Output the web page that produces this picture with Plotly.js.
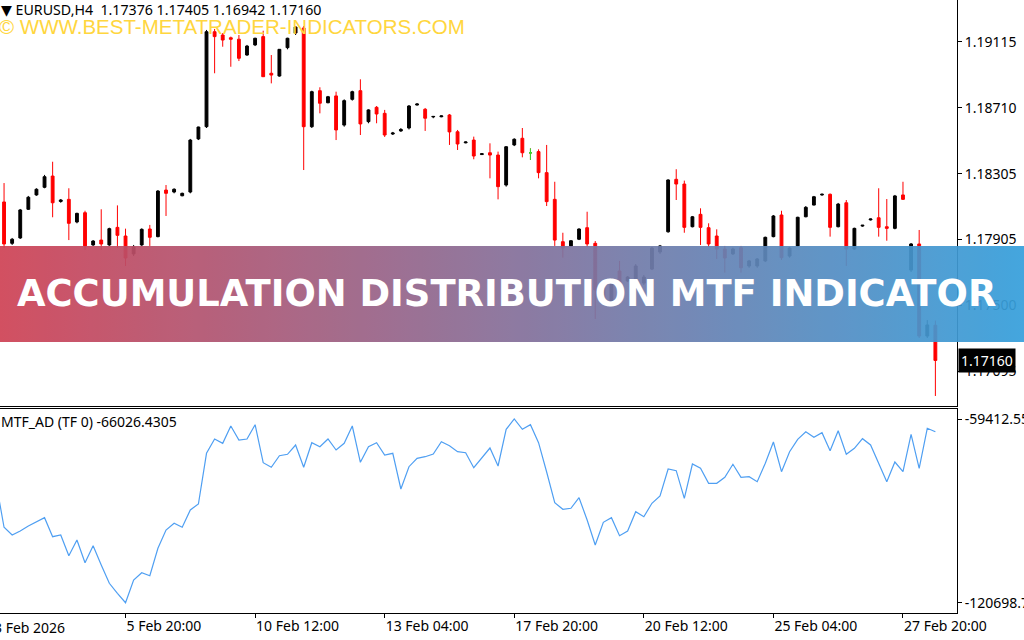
<!DOCTYPE html>
<html>
<head>
<meta charset="utf-8">
<script src="https://cdn.plot.ly/plotly-3.0.1.min.js"></script>
<style>html,body{margin:0;padding:0;background:#fff;}#chart{width:1024px;height:640px;}</style>
</head>
<body>
<div id="chart"></div>
<script>
// ---- Price data (EURUSD H4), bars 1..116 ----
const openP = [
1.18133,1.17879,1.17912,1.18088,1.18176,1.18223,1.18292,1.18136,1.18149,1.18010,
1.18067,1.17869,1.17899,1.17869,1.17977,1.17924,1.17814,1.17869,1.17967,1.17920,
1.18206,1.18194,1.18171,1.18194,1.18520,1.18595,1.19178,1.19158,1.19141,1.19132,
1.19035,1.19097,1.19148,1.18923,1.18906,1.19080,1.19170,1.19201,1.18595,1.18816,
1.18742,1.18784,1.18605,1.18763,1.18816,1.18626,1.18714,1.18677,1.18550,1.18569,
1.18587,1.18728,1.18702,1.18655,1.18656,1.18667,1.18564,1.18496,1.18513,1.18424,
1.18435,1.18421,1.18237,1.18483,1.18524,1.18435,1.18442,1.18313,1.18149,1.17889,
1.17863,1.17904,1.17975,1.17879,1.17531,1.17519,1.17709,1.17648,1.17660,1.17635,
1.17721,1.17826,1.17950,1.18272,1.18243,1.17981,1.18057,1.17975,1.17924,1.17844,
1.17814,1.17852,1.17740,1.17740,1.17771,1.17920,1.18053,1.17801,1.17863,1.18042,
1.18114,1.18176,1.18180,1.17981,1.18128,1.17844,1.17985,1.18023,1.18036,1.17981,
1.17971,1.18176,1.17715,1.17875,1.17310,1.17376];
const highP = [
1.18249,1.17912,1.18090,1.18170,1.18217,1.18299,1.18380,1.18151,1.18217,1.18067,
1.18079,1.17899,1.18088,1.17975,1.18112,1.17969,1.17869,1.17971,1.17992,1.18206,
1.18237,1.18217,1.18190,1.18520,1.18595,1.19189,1.19195,1.19170,1.19148,1.19158,
1.19097,1.19141,1.19184,1.19035,1.19072,1.19141,1.19213,1.19213,1.18816,1.18837,
1.18784,1.18810,1.18763,1.18816,1.18886,1.18702,1.18722,1.18698,1.18563,1.18587,
1.18728,1.18739,1.18710,1.18661,1.18664,1.18673,1.18575,1.18504,1.18534,1.18432,
1.18493,1.18442,1.18476,1.18524,1.18587,1.18462,1.18456,1.18483,1.18257,1.17944,
1.17899,1.17971,1.18073,1.17893,1.17623,1.17666,1.17771,1.17678,1.17752,1.17685,
1.17857,1.17869,1.18272,1.18334,1.18264,1.18047,1.18094,1.18002,1.17965,1.17863,
1.17852,1.17863,1.17777,1.17789,1.17920,1.18053,1.18079,1.17857,1.18042,1.18108,
1.18170,1.18185,1.18185,1.18127,1.18145,1.17975,1.17992,1.18031,1.18217,1.18151,
1.18176,1.18257,1.17881,1.17961,1.17408,1.17405];
const lowP = [
1.17850,1.17869,1.17906,1.18084,1.18171,1.18217,1.18039,1.18128,1.17899,1.18002,
1.17838,1.17863,1.17838,1.17863,1.17850,1.17740,1.17801,1.17863,1.17863,1.17916,
1.18047,1.18186,1.18168,1.18186,1.18513,1.18587,1.18923,1.19086,1.18963,1.18998,
1.19030,1.19090,1.18900,1.18861,1.18902,1.19070,1.19158,1.18329,1.18587,1.18677,
1.18739,1.18513,1.18595,1.18755,1.18544,1.18616,1.18616,1.18532,1.18544,1.18563,
1.18578,1.18725,1.18569,1.18647,1.18653,1.18483,1.18452,1.18493,1.18395,1.18421,
1.18278,1.18149,1.18227,1.18476,1.18407,1.18391,1.18278,1.18108,1.17863,1.17791,
1.17857,1.17899,1.17857,1.17415,1.17507,1.17500,1.17513,1.17641,1.17654,1.17623,
1.17715,1.17814,1.17944,1.18145,1.17944,1.17977,1.17869,1.17857,1.17783,1.17699,
1.17807,1.17699,1.17729,1.17729,1.17764,1.17916,1.17777,1.17791,1.17857,1.18039,
1.18112,1.18171,1.17920,1.17977,1.17740,1.17838,1.17981,1.18019,1.17920,1.17895,
1.17965,1.18145,1.17703,1.17298,1.17298,1.16942];
const closeP = [
1.17875,1.17904,1.18084,1.18162,1.18211,1.18288,1.18128,1.18145,1.18002,1.18063,
1.17863,1.17893,1.17875,1.17969,1.17928,1.17789,1.17857,1.17965,1.17916,1.18200,
1.18186,1.18211,1.18186,1.18513,1.18593,1.19178,1.19148,1.19127,1.19132,1.19015,
1.19090,1.19138,1.18902,1.18912,1.19070,1.19138,1.19207,1.18595,1.18810,1.18739,
1.18779,1.18575,1.18755,1.18810,1.18612,1.18698,1.18673,1.18544,1.18556,1.18578,
1.18722,1.18734,1.18647,1.18658,1.18661,1.18563,1.18489,1.18501,1.18415,1.18429,
1.18421,1.18227,1.18472,1.18518,1.18435,1.18435,1.18313,1.18135,1.17899,1.17850,
1.17895,1.17967,1.17875,1.17593,1.17605,1.17654,1.17635,1.17672,1.17740,1.17672,
1.17850,1.17863,1.18268,1.18243,1.17977,1.18042,1.17977,1.17875,1.17844,1.17789,
1.17844,1.17729,1.17771,1.17783,1.17916,1.18047,1.17791,1.17850,1.18039,1.18100,
1.18165,1.18180,1.17977,1.18120,1.17844,1.17971,1.17990,1.18028,1.17977,1.17971,
1.18170,1.18149,1.17875,1.17310,1.17378,1.17160];

// doji bar drawn in green
const dojiBar = [66];
const dojiOpen = [1.18435], dojiHigh = [1.18462], dojiLow = [1.18391], dojiClose = [1.18435];

// ---- MTF_AD indicator values, bars 0..116 ----
const adValues = [
-80430,-95542,-98110,-96776,-95108,-93673,-92339,-98677,-98110,-105015,
-99778,-107351,-101680,-108118,-114223,-117559,-120698.7,-113122,-110687,-111688,
-102547,-96442,-94207,-95542,-89770,-87769,-70855,-66085,-67519,-61748,
-66418,-66085,-61314,-73991,-75525,-71655,-71188,-68086,-75525,-67319,
-68653,-66085,-69754,-67519,-61748,-73857,-68653,-67319,-71422,-70855,
-82765,-75325,-72523,-71989,-71089,-66985,-68320,-70321,-70655,-75659,
-72189,-69087,-75092,-62849,-59412.55,-62849,-61314,-67319,-77093,-87335,
-89537,-89203,-85667,-93106,-101446,-93874,-92339,-98344,-96776,-90337,
-92005,-87535,-85100,-76093,-76660,-85867,-74425,-75859,-80863,-80863,
-78861,-74525,-78861,-78661,-80329,-74191,-67086,-76993,-70321,-66185,
-63649,-65518,-63983,-69988,-63316,-71188,-69187,-65984,-68086,-74191,
-80329,-73757,-76993,-64517,-75859,-62515,-63649];

// ---- Axis labels ----
const priceTicks = [1.19115, 1.18710, 1.18305, 1.17905, 1.17500, 1.17095];
const adTicks = [-59412.55, -120698.7];
const adTickText = ['-59412.55', '-120698.7'];
const timeTickBars = [16, 32, 48, 64, 80, 96, 112];
const timeTickText = ['5 Feb 20:00','10 Feb 12:00','13 Feb 04:00','17 Feb 20:00','20 Feb 12:00','25 Feb 04:00','27 Feb 20:00'];
const firstTimeLabel = '3 Feb 2026';
const lastPrice = 1.17160;
const headerText = '\u25BC EURUSD,H4\u00a0\u00a01.17376 1.17405 1.16942 1.17160';
const indicatorText = 'MTF_AD (TF 0) -66026.4305';
const watermarkText = '\u00A9 WWW.BEST-METATRADER-INDICATORS.COM';
const bannerText = 'ACCUMULATION DISTRIBUTION MTF INDICATOR';

const candleBars = openP.map((_, k) => k + 1);
const adBars = adValues.map((_, k) => k);

const axFont = {family: 'Noto Sans, Liberation Sans, sans-serif', size: 14, color: '#000'};

const traces = [
  {
    type: 'candlestick', x: candleBars, open: openP, high: highP, low: lowP, close: closeP,
    xaxis: 'x', yaxis: 'y', hoverinfo: 'skip', whiskerwidth: 0,
    increasing: {line: {color: '#000000', width: 1}, fillcolor: '#000000'},
    decreasing: {line: {color: '#ff0000', width: 1}, fillcolor: '#ff0000'}
  },
  {
    type: 'candlestick', x: dojiBar, open: dojiOpen, high: dojiHigh, low: dojiLow, close: dojiClose,
    xaxis: 'x', yaxis: 'y', hoverinfo: 'skip', whiskerwidth: 0,
    increasing: {line: {color: '#33dd33', width: 1}, fillcolor: '#33dd33'},
    decreasing: {line: {color: '#33dd33', width: 1}, fillcolor: '#33dd33'}
  },
  {
    type: 'scatter', mode: 'lines', x: adBars, y: adValues, xaxis: 'x2', yaxis: 'y2',
    line: {color: '#4f9ff2', width: 1.2}, hoverinfo: 'skip', cliponaxis: true
  }
];

const gradSvg = '<svg xmlns="http://www.w3.org/2000/svg" width="1024" height="96" viewBox="0 0 1024 96" preserveAspectRatio="none">' +
  '<defs><linearGradient id="g" x1="0" y1="0" x2="1" y2="0">' +
  '<stop offset="0" stop-color="#cf4356"/><stop offset="0.5" stop-color="#86709a"/><stop offset="1" stop-color="#36a0dc"/>' +
  '</linearGradient></defs><rect x="0" y="0" width="1024" height="96" fill="url(#g)"/></svg>';

const plotH = 613;   // plot area height in px (640 - bottom margin)
const plotW = 957;

const layout = {
  width: 1024, height: 640,
  margin: {l: 0, r: 67, t: 0, b: 27, pad: 0},
  paper_bgcolor: '#ffffff', plot_bgcolor: '#ffffff',
  showlegend: false,
  boxgap: 0.5,
  xaxis: {
    domain: [0, 1], range: [0.5, 118.67], anchor: 'y',
    showline: true, linecolor: '#000', linewidth: 1,
    ticks: '', showticklabels: false, showgrid: false, zeroline: false,
    rangeslider: {visible: false}, fixedrange: true
  },
  xaxis2: {
    matches: 'x', anchor: 'y2',
    showline: true, mirror: true, linecolor: '#000', linewidth: 1,
    ticks: 'outside', ticklen: 4, tickcolor: '#000', tickwidth: 1,
    tickmode: 'array', tickvals: timeTickBars, ticktext: timeTickText,
    ticklabelposition: 'outside right',
    tickfont: axFont, showgrid: false, zeroline: false, fixedrange: true
  },
  yaxis: {
    domain: [1 - 406 / plotH, 1], range: [1.168804, 1.193728], anchor: 'x', side: 'right',
    showline: true, linecolor: '#000', linewidth: 1,
    ticks: 'outside', ticklen: 4, tickcolor: '#000',
    tickmode: 'array', tickvals: priceTicks, ticktext: priceTicks.map(v => v.toFixed(5)),
    tickfont: axFont, showgrid: false, zeroline: false, fixedrange: true
  },
  yaxis2: {
    domain: [0, (plotH - 408.5) / plotH], range: [-124131, -55910], anchor: 'x2', side: 'right',
    showline: true, linecolor: '#000', linewidth: 1,
    ticks: 'outside', ticklen: 4, tickcolor: '#000',
    tickmode: 'array', tickvals: adTicks, ticktext: adTickText,
    tickfont: axFont, showgrid: false, zeroline: false, fixedrange: true
  },
  images: [{
    source: 'data:image/svg+xml;charset=utf-8,' + encodeURIComponent(gradSvg),
    xref: 'paper', yref: 'paper', x: 0, y: 1 - 246 / plotH, xanchor: 'left', yanchor: 'top',
    sizex: 1024 / plotW, sizey: 96 / plotH, sizing: 'stretch', layer: 'above', opacity: 0.93
  }],
  annotations: [
    {text: headerText, xref: 'paper', yref: 'paper', x: 0, y: 1, xanchor: 'left', yanchor: 'top',
     showarrow: false, font: {family: 'Noto Sans, DejaVu Sans, sans-serif', size: 14.2, color: '#000'}, borderpad: 0, yshift: 1},
    {text: watermarkText, xref: 'paper', yref: 'paper', x: 0, y: 1 - 26 / plotH, xanchor: 'left', yanchor: 'middle',
     showarrow: false, font: {family: 'Liberation Sans, Arial, sans-serif', size: 20.5, color: '#ffd63e'}, borderpad: 0, xshift: -2},
    {text: indicatorText, xref: 'paper', yref: 'paper', x: 0, y: 1 - 421 / plotH, xanchor: 'left', yanchor: 'middle',
     showarrow: false, font: {family: 'Noto Sans, DejaVu Sans, sans-serif', size: 14, color: '#000'}, borderpad: 0},
    {text: firstTimeLabel, xref: 'paper', yref: 'paper', x: -7 / plotW, y: 0, xanchor: 'left', yanchor: 'top',
     showarrow: false, font: axFont, borderpad: 0, yshift: -4},
    {text: bannerText, xref: 'paper', yref: 'paper', x: 506 / plotW, y: 1 - 293 / plotH, xanchor: 'center', yanchor: 'middle',
     showarrow: false, font: {family: 'DejaVu Sans, sans-serif', size: 36.9, weight: 'bold', color: '#ffffff'}},
    {text: lastPrice.toFixed(5), xref: 'paper', yref: 'y', x: 1 + 1 / plotW, y: lastPrice, xanchor: 'left', yanchor: 'middle',
     showarrow: false, font: {family: 'Noto Sans, Liberation Sans, sans-serif', size: 14, color: '#ffffff'},
     bgcolor: '#000000', borderpad: 2}
  ]
};

Plotly.newPlot('chart', traces, layout, {displayModeBar: false, staticPlot: true});
</script>
</body>
</html>
